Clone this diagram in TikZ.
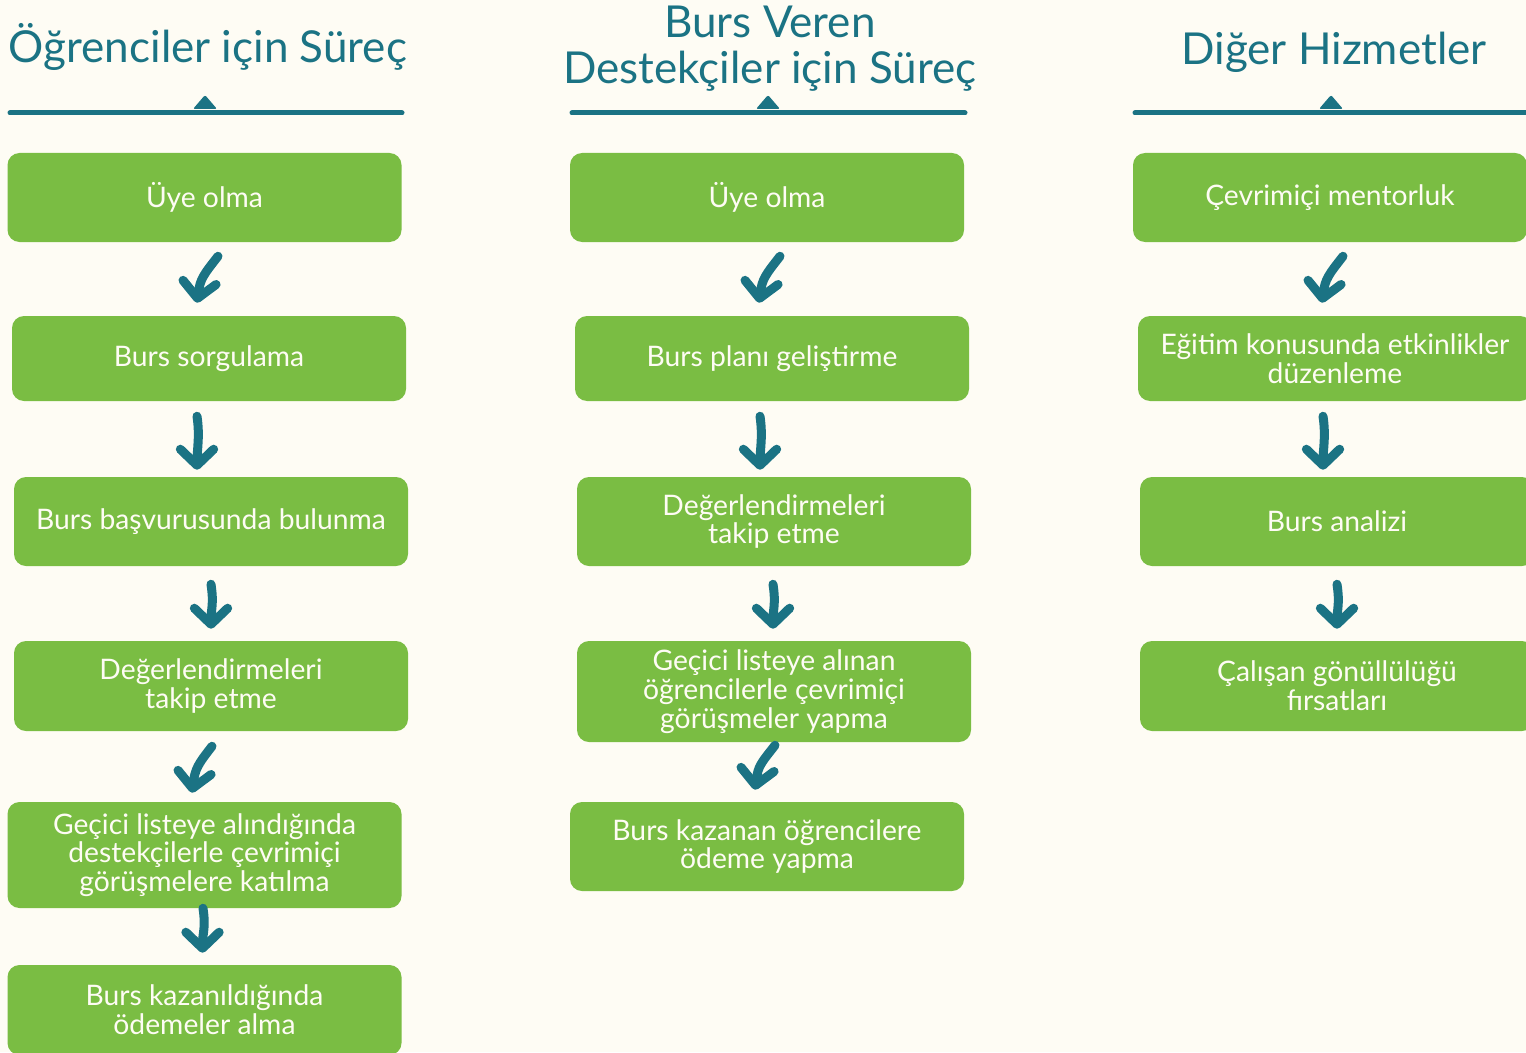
\documentclass[tikz,border=0pt]{standalone}
\usepackage{fontspec}
\setmainfont{Lato}
\usetikzlibrary{arrows.meta,calc}

\definecolor{cream}{HTML}{FEFCF4}
\definecolor{leaf}{HTML}{7ABD43}
\definecolor{petrol}{HTML}{1B7384}

\begin{document}
\begin{tikzpicture}[x=0.75pt,y=-0.75pt,
		stage/.style={fill=leaf, rounded corners=9pt, minimum width=295.5pt, inner sep=0pt,
			text=cream, align=center, font=\fontsize{21.2}{21.5}\selectfont},
		title/.style={text=petrol, align=center, anchor=base, font=\fontsize{33}{34.5}\selectfont},
		rule/.style={draw=petrol, line width=3.75pt, line cap=round},
		flow/.style={draw=petrol, line width=6.75pt, line cap=round,
			-{Straight Barb[length=12pt,width=25pt,round]}},
		hook/.style={to path={.. controls +(-14,18) and +(3,-24) .. (\tikztotarget)}},
		drop/.style={to path={.. controls +(3,20) and +(0,-20) .. (\tikztotarget)}}]

		\fill[cream] (0,0) rectangle (1526,1052);
		\useasboundingbox (0,0) rectangle (1526,1052);

		% headings
		\node[title] (t1) at (208,63) {Öğrenciler için Süreç};
		\node[title] (t2) at (770,84) {Burs Veren\\Destekçiler için Süreç};
		\node[title] (t3) at (1334,65) {Diğer Hizmetler};

		\draw[rule] (10,113) -- (402,113);
		\draw[rule] (572,113) -- (965,113);
		\draw[rule] (1135,113) -- (1530,113);
		\foreach \x in {205,768,1331}
			\fill[petrol, rounded corners=1.5pt] (\x-12,109) -- (\x,95) -- (\x+12,109) -- cycle;

		% students
		\node[stage, minimum height=66.75pt] (s1) at (204.5,197.5) {Üye olma};
		\node[stage, minimum height=63.75pt] (s2) at (209,358.5) {Burs sorgulama};
		\node[stage, minimum height=66.75pt] (s3) at (211,521.5) {Burs başvurusunda bulunma};
		\node[stage, minimum height=67.5pt] (s4) at (211,686) {Değerlendirmeleri\\takip etme};
		\node[stage, minimum height=79.5pt] (s5) at (204.5,855) {Geçici listeye alındığında\\destekçilerle çevrimiçi\\görüşmelere katılma};
		\node[stage, minimum height=67.5pt] (s6) at (204.5,1010) {Burs kazanıldığında\\ödemeler alma};

		\draw[flow, hook] ($(s1.south)+(13.5,14)$) to ($(s2.north)+(-12,-13)$);
		\draw[flow, drop] ($(s2.south)+(-12,15)$) to ($(s3.north)+(-14,-7)$);
		\draw[flow, drop] ($(s3.south)+(0,18)$) to ($(s4.north)+(0,-12)$);
		\draw[flow, hook] ($(s4.south)+(1,15)$) to ($(s5.north)+(-12.5,-9)$);
		\draw[flow, drop] ($(s5.south)+(-1.5,0)$) to ($(s6.north)+(-2,-12)$);

		% donors
		\node[stage, minimum height=66.75pt] (d1) at (767,197.5) {Üye olma};
		\node[stage, minimum height=63.75pt] (d2) at (772,358.5) {Burs planı geliştirme};
		\node[stage, minimum height=66.75pt] (d3) at (774,521.5) {Değerlendirmeleri\\takip etme};
		\node[stage, minimum height=75.75pt] (d4) at (774,691.5) {Geçici listeye alınan\\öğrencilerle çevrimiçi\\görüşmeler yapma};
		\node[stage, minimum height=66.75pt] (d5) at (767,846.5) {Burs kazanan öğrencilere\\ödeme yapma};

		\draw[flow, hook] ($(d1.south)+(13,14)$) to ($(d2.north)+(-13,-13)$);
		\draw[flow, drop] ($(d2.south)+(-12,15)$) to ($(d3.north)+(-14,-7)$);
		\draw[flow, drop] ($(d3.south)+(-1,18)$) to ($(d4.north)+(-1,-12)$);
		\draw[flow, hook] ($(d4.south)+(1,3)$) to ($(d5.north)+(-12,-12)$);

		% other services
		\node[stage, minimum height=66.75pt] (h1) at (1330,197.5) {Çevrimiçi mentorluk};
		\node[stage, minimum height=63.75pt] (h2) at (1335,358.5) {Eğitim konusunda etkinlikler\\düzenleme};
		\node[stage, minimum height=66.75pt] (h3) at (1337,521.5) {Burs analizi};
		\node[stage, minimum height=67.5pt] (h4) at (1337,686) {Çalışan gönüllülüğü\\fırsatları};

		\draw[flow, hook] ($(h1.south)+(13,14)$) to ($(h2.north)+(-13,-13)$);
		\draw[flow, drop] ($(h2.south)+(-12,15)$) to ($(h3.north)+(-14,-7)$);
		\draw[flow, drop] ($(h3.south)+(0,18)$) to ($(h4.north)+(0,-12)$);
	\end{tikzpicture}
\end{document}
